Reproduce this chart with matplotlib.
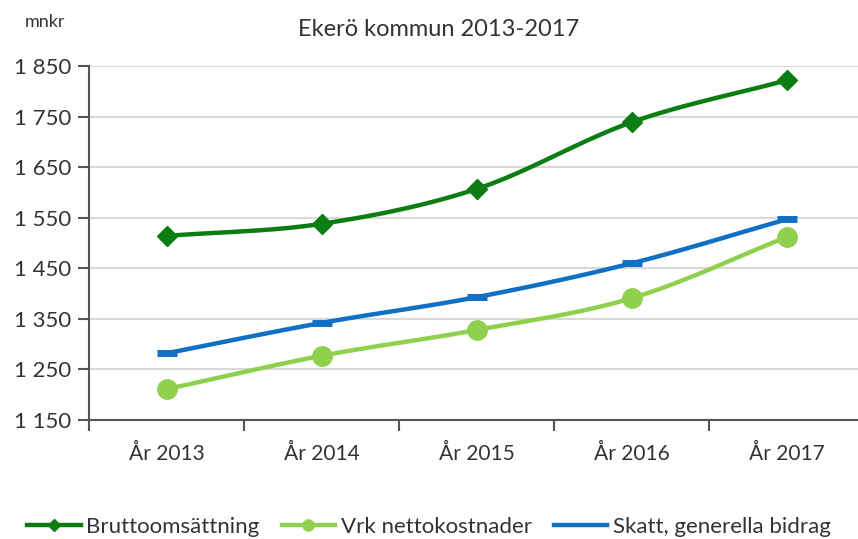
import numpy as np
import matplotlib
matplotlib.use("Agg")
import matplotlib.pyplot as plt
from matplotlib.ticker import FuncFormatter
from matplotlib.lines import Line2D

plt.rcParams['font.family'] = ['Lato', 'DejaVu Sans']

categories = ["År 2013", "År 2014", "År 2015", "År 2016", "År 2017"]
brutto = [1514, 1538, 1607, 1739, 1822]
vrk = [1211, 1277, 1328, 1391, 1512]
skatt = [1282, 1342, 1393, 1460, 1547]
yticks = [1150, 1250, 1350, 1450, 1550, 1650, 1750, 1850]

c_brutto = "#0b7d12"
c_vrk = "#8fd14f"
c_skatt = "#1070c4"
c_text = "#333333"


def smooth(x, y, n=30, t=0.5):
    x = np.asarray(x, float); y = np.asarray(y, float)
    px = np.concatenate([[2 * x[0] - x[1]], x, [2 * x[-1] - x[-2]]])
    py = np.concatenate([[2 * y[0] - y[1]], y, [2 * y[-1] - y[-2]]])
    xs, ys = [], []
    for i in range(1, len(px) - 2):
        p0, p1, p2, p3 = [(px[j], py[j]) for j in (i - 1, i, i + 1, i + 2)]
        b1 = (p1[0] + (p2[0] - p0[0]) * t / 3, p1[1] + (p2[1] - p0[1]) * t / 3)
        b2 = (p2[0] - (p3[0] - p1[0]) * t / 3, p2[1] - (p3[1] - p1[1]) * t / 3)
        s = np.linspace(0, 1, n)
        bx = (1 - s) ** 3 * p1[0] + 3 * (1 - s) ** 2 * s * b1[0] + 3 * (1 - s) * s ** 2 * b2[0] + s ** 3 * p2[0]
        by = (1 - s) ** 3 * p1[1] + 3 * (1 - s) ** 2 * s * b1[1] + 3 * (1 - s) * s ** 2 * b2[1] + s ** 3 * p2[1]
        xs.extend(bx); ys.extend(by)
    return np.array(xs), np.array(ys)


fig = plt.figure(figsize=(8.58, 5.39), dpi=100)
W, H = 858, 539
left, right, top, bottom = 89, 864.6, 66, 420
ax = fig.add_axes([left / W, 1 - bottom / H, (right - left) / W, (bottom - top) / H])

x = np.arange(len(categories))
for vals, col, mk, ms in [(skatt, c_skatt, None, 0),
                          (vrk, c_vrk, 'o', 14),
                          (brutto, c_brutto, 'D', 10)]:
    sx, sy = smooth(x, vals)
    ax.plot(sx, sy, color=col, lw=3.2, solid_capstyle='butt', zorder=3)
    if mk:
        ax.plot(x, vals, linestyle='none', marker=mk, ms=ms, color=col, zorder=4)
    else:
        ax.plot(x, vals, linestyle='none', marker='_', ms=14, mew=5, color=col, zorder=4)

ax.set_xlim(-0.5, len(categories) - 0.5)
ax.set_ylim(1150, 1850)
ax.set_yticks(yticks)
ax.yaxis.set_major_formatter(FuncFormatter(lambda v, p: f"{int(v):,}".replace(",", " ")))
ax.set_xticks(x)
ax.set_xticklabels(categories)
ax.set_xticks(np.arange(-0.5, len(categories), 1), minor=True)
ax.tick_params(axis='x', which='major', length=0, pad=17, labelsize=15, labelcolor=c_text)
ax.tick_params(axis='x', which='minor', length=8, width=1.5, color="#555555", direction='out')
ax.tick_params(axis='y', length=8, width=1.5, color="#555555", direction='out', pad=5,
               labelsize=16, labelcolor=c_text)
ax.grid(axis='y', color="#d9d9d9", lw=1.5)
ax.set_axisbelow(True)
for s in ['top', 'right']:
    ax.spines[s].set_visible(False)
for s in ['left', 'bottom']:
    ax.spines[s].set_color("#555555")
    ax.spines[s].set_linewidth(1.5)

fig.text(439 / W, 1 - 30 / H, "Ekerö kommun 2013-2017", ha='center', va='center',
         fontsize=17, color=c_text)
fig.text(45 / W, 1 - 22 / H, "mnkr", ha='center', va='center', fontsize=13, color=c_text)

handles = [Line2D([], [], color=c_brutto, lw=3.2, marker='D', ms=6),
           Line2D([], [], color=c_vrk, lw=3.2, marker='o', ms=8),
           Line2D([], [], color=c_skatt, lw=3.2)]
fig.legend(handles, ["Bruttoomsättning", "Vrk nettokostnader", "Skatt, generella bidrag"],
           loc='center', bbox_to_anchor=(429 / W, 1 - 527 / H), ncol=3, frameon=False,
           fontsize=16, handlelength=2.4, handletextpad=0.25, columnspacing=1.0,
           labelcolor=c_text, borderpad=0)

fig.savefig("out.png", dpi=100)
